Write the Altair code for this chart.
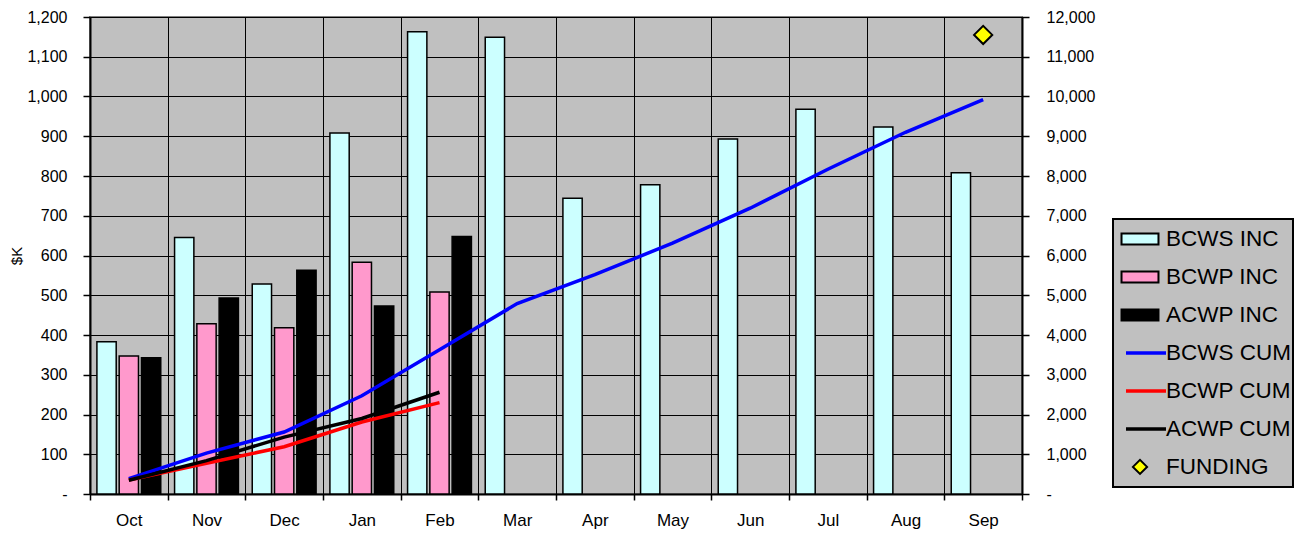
import altair as alt
import pandas as pd

FONT = "Liberation Sans"

months = ["Oct", "Nov", "Dec", "Jan", "Feb", "Mar", "Apr", "May", "Jun", "Jul", "Aug", "Sep"]

# incremental values ($K, left axis)
bcws_inc = [383, 645, 528, 908, 1163, 1149, 744, 778, 893, 968, 923, 808]
bcwp_inc = [347, 428, 418, 583, 508]
acwp_inc = [343, 493, 563, 473, 648]

# cumulative values ($K, right axis)
bcws_cum = [385, 1030, 1560, 2470, 3630, 4790, 5520, 6310, 7190, 8170, 9100, 9920]
bcwp_cum = [350, 775, 1190, 1810, 2300]
acwp_cum = [345, 840, 1430, 1900, 2560]

funding_month = ["Sep"]
funding_value = [11550]

inc_series = ["BCWS INC", "BCWP INC", "ACWP INC"]
inc_colors = ["#CCFFFF", "#FF99CC", "#000000"]
cum_series = ["BCWS CUM", "BCWP CUM", "ACWP CUM"]
cum_colors = ["#0000FF", "#FF0000", "#000000"]
legend_names = inc_series + cum_series + ["FUNDING"]

rows = []
for s, vals in zip(inc_series, [bcws_inc, bcwp_inc, acwp_inc]):
    for m, v in zip(months, vals):
        rows.append({"month": m, "series": s, "value": v})
bars_df = pd.DataFrame(rows)

rows = []
for s, vals in zip(cum_series, [bcws_cum, bcwp_cum, acwp_cum]):
    for m, v in zip(months, vals):
        rows.append({"month": m, "series": s, "value": v})
lines_df = pd.DataFrame(rows)

fund_df = pd.DataFrame({"month": funding_month, "value": funding_value})

zero_dash = "datum.value == 0 ? '-' : format(datum.value, ',')"

x_enc = alt.X(
    "month:N", sort=months, title=None,
    scale=alt.Scale(domain=months, paddingInner=0, paddingOuter=0),
    axis=alt.Axis(labelAngle=0, tickBand="extent", grid=True, gridColor="black",
                  gridWidth=1, gridOpacity=1, domainColor="black", domainWidth=2,
                  tickColor="black", tickSize=6, tickWidth=1.5, labelFont=FONT,
                  labelFontSize=17, labelColor="black", labelPadding=12),
)

right_y = alt.Y("value:Q", title=None,
                scale=alt.Scale(domain=[0, 12000], nice=False),
                axis=alt.Axis(orient="right", values=list(range(0, 12001, 1000)),
                              labelExpr=zero_dash, grid=False, domainColor="black",
                              domainWidth=2, tickColor="black", tickSize=7, tickWidth=1.5,
                              labelFont=FONT, labelFontSize=16, labelColor="black",
                              labelPadding=17))

bars = alt.Chart(bars_df).mark_bar(stroke="black", strokeWidth=1.5).encode(
    x=x_enc,
    xOffset=alt.XOffset("series:N", sort=inc_series,
                        scale=alt.Scale(domain=inc_series, paddingInner=0.134, paddingOuter=0.31)),
    y=alt.Y("value:Q", title="$K",
            scale=alt.Scale(domain=[0, 1200], nice=False),
            axis=alt.Axis(values=list(range(0, 1201, 100)), labelExpr=zero_dash,
                          grid=True, gridColor="black", gridWidth=1, gridOpacity=1,
                          domainColor="black", domainWidth=2, tickColor="black",
                          tickSize=7, tickWidth=1.5, labelFont=FONT, labelFontSize=16,
                          labelColor="black", labelPadding=16, titleFont=FONT,
                          titleFontSize=15, titleFontWeight="normal", titleColor="black",
                          titlePadding=2)),
    fill=alt.Fill("series:N", scale=alt.Scale(domain=inc_series, range=inc_colors), legend=None),
)

lines = alt.Chart(lines_df).mark_line(strokeWidth=3.5).encode(
    x=x_enc,
    y=right_y,
    stroke=alt.Stroke("series:N", scale=alt.Scale(domain=cum_series, range=cum_colors), legend=None),
    detail="series:N",
)

funding = alt.Chart(fund_df).mark_point(
    shape="diamond", filled=True, fill="#FFFF00", stroke="black", strokeWidth=2,
    size=330, opacity=1,
).encode(
    x=x_enc,
    y=right_y,
)

main = alt.layer(bars, alt.layer(lines, funding)).resolve_scale(y="independent").properties(
    width=932, height=477,
    view=alt.ViewBackground(fill="#C0C0C0", stroke="#808080", strokeWidth=2),
)

# legend panel
leg_df = pd.DataFrame({"name": legend_names})
y_leg = alt.Y("name:N", sort=legend_names,
              scale=alt.Scale(type="point", domain=legend_names, padding=0.53), axis=None)

RECT_PATH = "M-1.68,-0.5H1.68V0.5H-1.68Z"
swatches = alt.Chart(leg_df).transform_filter(
    alt.FieldOneOfPredicate(field="name", oneOf=inc_series)
).mark_point(shape=RECT_PATH, filled=True, size=484, stroke="black", strokeWidth=2, opacity=1).encode(
    x=alt.value(27), y=y_leg,
    fill=alt.Fill("name:N", scale=alt.Scale(domain=inc_series, range=inc_colors), legend=None),
)
leg_lines = alt.Chart(leg_df).transform_filter(
    alt.FieldOneOfPredicate(field="name", oneOf=cum_series)
).mark_rule(strokeWidth=3.5).encode(
    x=alt.value(13), x2=alt.value(53), y=y_leg,
    stroke=alt.Stroke("name:N", scale=alt.Scale(domain=cum_series, range=cum_colors), legend=None),
)
leg_diamond = alt.Chart(leg_df).transform_filter(
    alt.datum.name == "FUNDING"
).mark_point(shape="diamond", filled=True, fill="#FFFF00", stroke="black", strokeWidth=2,
             size=200, opacity=1).encode(x=alt.value(27), y=y_leg)
leg_text = alt.Chart(leg_df).mark_text(
    align="left", baseline="middle", font=FONT, fontSize=22.5, color="black"
).encode(x=alt.value(53), y=y_leg, text="name:N")

legend = alt.layer(swatches, leg_lines, leg_diamond, leg_text).properties(
    width=180, height=268,
    view=alt.ViewBackground(fill="#C0C0C0", stroke="black", strokeWidth=2),
)

spacer = alt.Chart(pd.DataFrame({"a": [0]})).mark_text(text="").encode(
    x=alt.value(0), y=alt.value(0)
).properties(width=180, height=200,
             view=alt.ViewBackground(fill="transparent", stroke="transparent"))

chart = alt.hconcat(
    main, alt.vconcat(spacer, legend, spacing=0), spacing=16
).properties(
    padding={"left": 0, "top": 0, "right": 0, "bottom": 0}
).configure(background="white")

chart.save("out.html", embed_options={"renderer": "svg", "actions": False})
